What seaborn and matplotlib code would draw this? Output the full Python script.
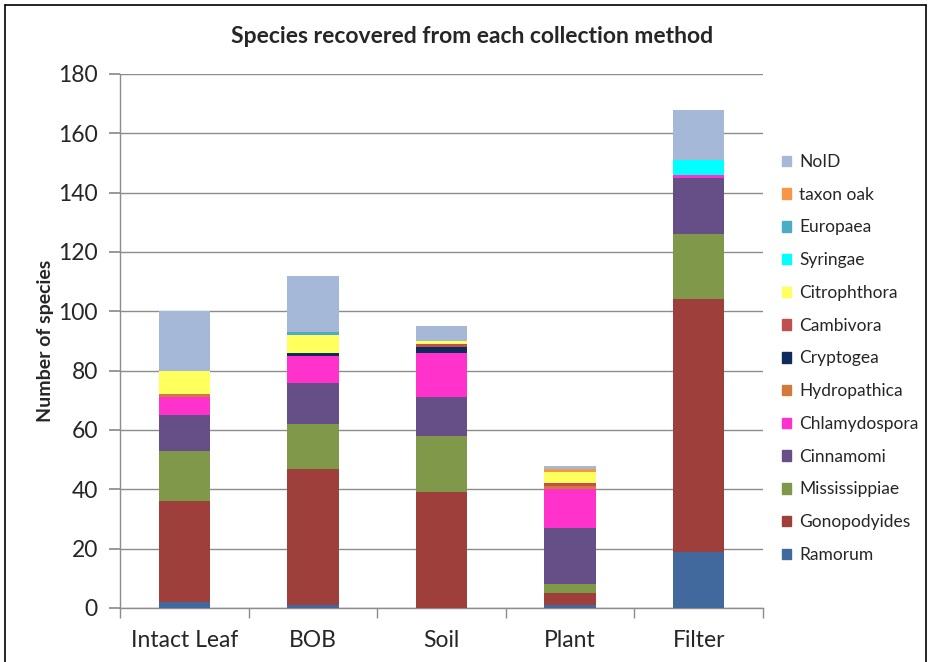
import matplotlib
matplotlib.use("Agg")
import matplotlib.pyplot as plt
import matplotlib.patches as mpatches
import numpy as np
import pandas as pd
import seaborn as sns

# Collection methods (x categories)
methods = ["Intact Leaf", "BOB", "Soil", "Plant", "Filter"]

# Species counts per method, stacked bottom to top in this order
ramorum       = [2, 1, 0, 1, 19]
gonopodyides  = [34, 46, 39, 4, 85]
mississippiae = [17, 15, 19, 3, 22]
cinnamomi     = [12, 14, 13, 19, 19]
chlamydospora = [6, 9, 15, 13, 1]
hydropathica  = [1, 0, 0, 1, 0]
cryptogea     = [0, 1, 2, 0, 0]
cambivora     = [0, 0, 1, 1, 0]
citrophthora  = [8, 6, 1, 4, 0]
syringae      = [0, 0, 0, 0, 5]
europaea      = [0, 1, 0, 0, 0]
taxon_oak     = [0, 0, 0, 1, 0]
noid          = [20, 19, 5, 1, 17]

series_names = ["Ramorum", "Gonopodyides", "Mississippiae", "Cinnamomi",
                "Chlamydospora", "Hydropathica", "Cryptogea", "Cambivora",
                "Citrophthora", "Syringae", "Europaea", "taxon oak", "NoID"]
series_values = [ramorum, gonopodyides, mississippiae, cinnamomi,
                 chlamydospora, hydropathica, cryptogea, cambivora,
                 citrophthora, syringae, europaea, taxon_oak, noid]
series_colors = ["#41699E", "#9E3F3C", "#7F984A", "#654F86",
                 "#FF33CC", "#D27A3C", "#0E2B5C", "#C0504D",
                 "#FFFF5E", "#00FFFF", "#4BACC6", "#F79646", "#A6B8D7"]

sns.set_theme(style="white")
plt.rcParams["font.family"] = ["Lato", "DejaVu Sans"]

fig = plt.figure(figsize=(9.31, 6.62), dpi=100)
ax = fig.add_axes([120 / 931, 1 - 608 / 662, (763 - 120) / 931, (608 - 74) / 662])

# Cumulative totals; draw tallest first so lower segments sit on top
values = np.array(series_values, dtype=float)
cum = np.cumsum(values, axis=0)
for i in range(len(series_names) - 1, -1, -1):
    df = pd.DataFrame({"method": methods, "count": cum[i]})
    sns.barplot(data=df, x="method", y="count", order=methods,
                color=series_colors[i], saturation=1, width=0.4,
                linewidth=0, ax=ax, zorder=3)

ax.set_ylim(0, 180)
ax.set_xlim(-0.5, len(methods) - 0.5)
ax.set_yticks(np.arange(0, 181, 20))
ax.yaxis.grid(True, color="#8C8C8C", linewidth=1)
ax.set_axisbelow(True)
ax.set_xlabel("")
ax.set_ylabel("Number of species", fontsize=14, fontweight="bold", labelpad=3)

for side in ["top", "right"]:
    ax.spines[side].set_visible(False)
for side in ["left", "bottom"]:
    ax.spines[side].set_color("#8C8C8C")
    ax.spines[side].set_linewidth(1)

ax.tick_params(axis="y", which="major", length=8, color="#8C8C8C",
               labelsize=16.5, pad=8, left=True, direction="out")
ax.tick_params(axis="x", which="major", length=0, labelsize=16.5, pad=16)
ax.set_xticks(np.arange(-0.5, len(methods), 1), minor=True)
ax.tick_params(axis="x", which="minor", length=7, color="#8C8C8C",
               bottom=True, direction="out")

ax.set_title("Species recovered from each collection method",
             fontsize=16.5, fontweight="bold", pad=22, x=(472 - 120) / 643)

handles = [mpatches.Patch(color=c, label=n)
           for n, c in zip(series_names, series_colors)][::-1]
leg = fig.legend(handles=handles, loc="upper left",
                 bbox_to_anchor=(775 / 931, 1 - 147 / 662), frameon=False,
                 fontsize=12.5, handlelength=0.55, handleheight=0.55,
                 handletextpad=0.45, labelspacing=0.965, borderaxespad=0)
for t in leg.get_texts():
    t.set_color("#262626")

# Outer chart frame
for xs, ys in [([5, 5], [0, 657]), ([5, 926], [657, 657]), ([926, 926], [657, 0])]:
    fig.add_artist(plt.Line2D([x / 931 for x in xs], [y / 662 for y in ys],
                              color="black", linewidth=1.2,
                              transform=fig.transFigure))

fig.savefig("out.png", dpi=100)
